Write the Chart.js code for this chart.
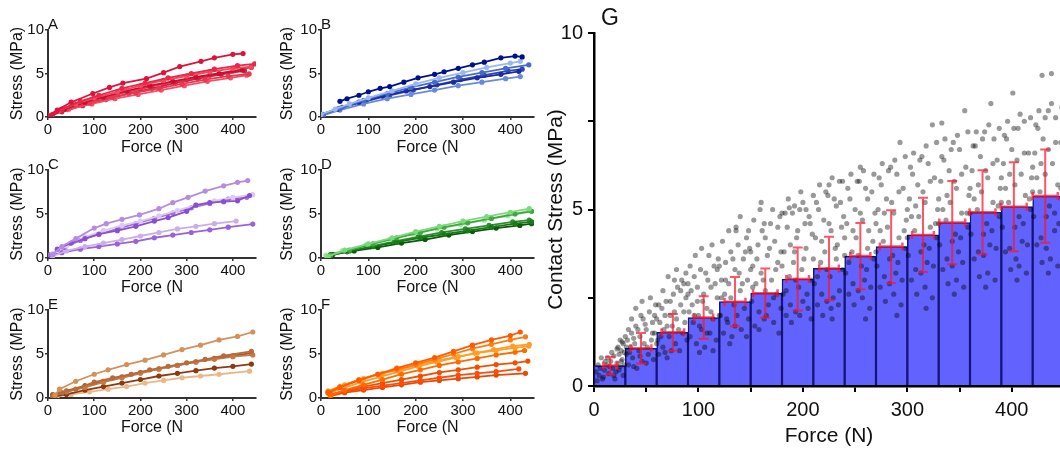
<!DOCTYPE html>
<html>
<head>
<meta charset="utf-8">
<script src="https://cdn.jsdelivr.net/npm/chart.js@4.4.1/dist/chart.umd.min.js"></script>
<style>
  body {
    margin: 0;
    width: 1060px;
    height: 451px;
    overflow: hidden;
    background: #fff;
    position: relative;
    font-family: "Liberation Sans", Arial, sans-serif;
  }
  canvas { position: absolute; }
  .tag { position: absolute; color: #111; font-size: 15px; line-height: 15px; }
  .tag-big { font-size: 23px; line-height: 23px; }
</style>
</head>
<body>
<canvas id="chartA" width="265" height="165" style="left:0;top:0"></canvas>
<canvas id="chartB" width="270" height="165" style="left:270px;top:0"></canvas>
<canvas id="chartC" width="265" height="165" style="left:0;top:140px"></canvas>
<canvas id="chartD" width="270" height="165" style="left:270px;top:140px"></canvas>
<canvas id="chartE" width="265" height="165" style="left:0;top:280px"></canvas>
<canvas id="chartF" width="270" height="165" style="left:270px;top:280px"></canvas>
<canvas id="chartG" width="530" height="451" style="left:540px;top:0"></canvas>

<div class="tag" style="left:48px;top:16px">A</div>
<div class="tag" style="left:321px;top:16px">B</div>
<div class="tag" style="left:48px;top:156px">C</div>
<div class="tag" style="left:321px;top:156px">D</div>
<div class="tag" style="left:48px;top:296px">E</div>
<div class="tag" style="left:321px;top:296px">F</div>
<div class="tag tag-big" style="left:601px;top:6px">G</div>

<script>
// ---------------- data: stress vs force per specimen, [force N, stress MPa] ----------------
const specimensA = [
  [[0,0.1],[20,0.8],[50,1.7],[97,2.7],[133,3.4],[162,3.9],[213,4.4],[250,5.1],[285,5.8],[331,6.4],[360,6.8],[400,7.2],[422,7.3]],
  [[0,0.1],[30,0.9],[70,1.8],[110,2.5],[160,3.3],[210,3.9],[260,4.5],[310,5.0],[360,5.5],[410,5.9],[447,6.1]],
  [[0,0.2],[25,0.8],[60,1.5],[100,2.2],[150,2.9],[200,3.6],[250,4.2],[300,4.7],[350,5.2],[400,5.6],[440,5.8]],
  [[5,0.1],[35,0.9],[80,1.7],[120,2.3],[170,3.0],[220,3.6],[270,4.1],[320,4.6],[370,5.0],[420,5.4]],
  [[0,0.1],[40,0.9],[90,1.6],[140,2.3],[190,2.8],[240,3.3],[290,3.8],[340,4.3],[390,4.7],[435,4.95]],
  [[5,0.2],[45,0.9],[95,1.5],[145,2.1],[195,2.6],[245,3.1],[295,3.6],[345,4.1],[395,4.5],[430,4.8]],
  [[0,0.1],[30,0.6],[75,1.3],[125,2.0],[175,2.7],[225,3.3],[275,3.9],[325,4.4],[375,4.9],[425,5.3]],
  [[10,0.3],[50,1.2],[100,1.9],[150,2.6],[200,3.2],[250,3.8],[300,4.3],[350,4.8],[400,5.3],[440,5.7]],
];
const specimensB = [
  [[40,1.8],[55,2.1],[80,2.5],[100,2.9],[125,3.3],[145,3.5],[175,4.0],[205,4.5],[240,4.9],[260,5.2],[290,5.6],[320,6.0],[345,6.3],[380,6.8],[410,7.0],[425,6.9]],
  [[0,0.3],[30,0.9],[60,1.5],[100,2.2],[150,3.0],[200,3.8],[250,4.5],[300,5.1],[350,5.7],[400,6.2],[421,6.4]],
  [[5,0.3],[40,1.0],[90,1.9],[140,2.7],[190,3.4],[240,4.0],[290,4.6],[340,5.1],[390,5.6],[439,6.0]],
  [[0,0.3],[35,0.9],[80,1.7],[130,2.4],[180,3.0],[230,3.5],[280,4.0],[330,4.5],[380,4.9],[418,5.25]],
  [[5,0.2],[40,0.8],[90,1.5],[140,2.1],[190,2.6],[240,3.1],[290,3.6],[340,4.0],[390,4.4],[421,4.65]],
  [[0,0.3],[45,1.1],[95,1.8],[145,2.5],[195,3.1],[245,3.7],[295,4.3],[345,4.8],[395,5.3],[425,5.5]],
];
const specimensC = [
  [[10,0.4],[30,1.3],[60,2.2],[100,3.4],[126,3.9],[160,4.4],[198,4.9],[240,5.6],[270,6.3],[303,6.9],[340,7.6],[380,8.2],[410,8.6],[432,8.8]],
  [[20,1.0],[50,1.7],[80,2.2],[110,2.7],[150,3.1],[190,3.6],[230,4.2],[260,4.6],[300,5.3],[320,6.0],[350,6.3],[380,6.4],[410,6.5],[436,7.1]],
  [[10,0.5],[40,1.4],[80,2.4],[120,3.1],[160,3.7],[200,4.2],[240,4.8],[280,5.4],[320,6.0],[360,6.5],[400,6.9],[443,7.2]],
  [[5,0.4],[35,1.2],[70,2.0],[110,2.7],[150,3.3],[190,3.9],[230,4.5],[270,5.1],[310,5.7],[350,6.2],[390,6.7],[430,6.9]],
  [[10,0.2],[40,0.8],[80,1.3],[120,1.7],[160,2.1],[200,2.5],[240,2.9],[280,3.3],[320,3.6],[360,3.9],[407,4.2]],
  [[5,0.3],[30,0.6],[70,1.0],[110,1.3],[150,1.6],[190,1.9],[230,2.3],[270,2.6],[310,2.9],[350,3.2],[390,3.5],[443,3.85]],
];
const specimensD = [
  [[15,0.2],[50,0.9],[100,1.6],[150,2.3],[200,3.0],[250,3.6],[300,4.2],[350,4.7],[400,5.2],[440,5.6]],
  [[20,0.3],[60,0.9],[110,1.6],[160,2.3],[210,2.9],[260,3.5],[310,4.0],[360,4.5],[410,5.0],[445,5.3]],
  [[20,0.4],[60,0.8],[110,1.3],[160,1.8],[210,2.3],[260,2.7],[310,3.1],[360,3.5],[410,3.9],[445,4.1]],
  [[25,0.4],[70,0.8],[120,1.2],[170,1.7],[220,2.1],[270,2.6],[320,3.0],[370,3.4],[420,3.7],[445,3.9]],
  [[10,0.3],[45,0.8],[95,1.5],[145,2.1],[195,2.7],[245,3.3],[295,3.8],[345,4.3],[395,4.8],[440,5.4]],
  [[20,0.3],[55,0.7],[105,1.3],[155,1.9],[205,2.4],[255,2.9],[305,3.3],[355,3.7],[405,4.1],[440,4.3]],
];
const specimensE = [
  [[15,0.3],[25,1.0],[60,1.9],[100,2.7],[130,3.2],[170,3.8],[210,4.3],[250,4.9],[290,5.5],[330,6.0],[370,6.6],[410,7.0],[443,7.5]],
  [[10,0.2],[30,0.6],[60,1.0],[100,1.8],[140,2.3],[180,2.7],[220,3.2],[260,3.6],[300,4.0],[340,4.4],[380,4.8],[440,5.3]],
  [[15,0.3],[40,0.7],[80,1.2],[120,1.8],[160,2.3],[200,2.8],[240,3.3],[280,3.7],[320,4.1],[360,4.4],[400,4.7],[443,4.9]],
  [[15,0.2],[40,0.4],[80,0.9],[120,1.3],[160,1.7],[200,2.1],[240,2.5],[280,2.8],[320,3.1],[360,3.4],[400,3.6],[440,3.85]],
  [[20,0.2],[50,0.4],[90,0.7],[130,1.0],[170,1.3],[210,1.7],[250,2.0],[290,2.3],[330,2.5],[370,2.7],[436,3.05]],
  [[10,0.4],[40,0.8],[80,1.4],[120,1.9],[160,2.4],[200,2.9],[240,3.3],[280,3.7],[320,4.1],[360,4.5],[400,4.8],[440,5.1]],
];
const specimensF = [
  [[15,0.6],[40,1.2],[80,2.0],[120,2.7],[160,3.4],[200,4.0],[240,4.6],[280,5.3],[320,6.0],[360,6.6],[400,7.1],[421,7.5]],
  [[15,0.7],[40,1.3],[80,2.1],[120,2.7],[160,3.2],[200,3.8],[240,4.4],[280,5.0],[320,5.6],[360,6.1],[400,6.6],[432,6.95]],
  [[15,0.8],[50,1.5],[90,2.2],[130,2.8],[170,3.3],[210,3.8],[250,4.3],[290,4.7],[330,5.1],[370,5.4],[410,5.7],[439,5.9]],
  [[20,0.3],[50,0.9],[90,1.5],[130,2.1],[170,2.7],[210,3.2],[250,3.7],[290,4.1],[330,4.5],[370,4.9],[410,5.2],[430,5.4]],
  [[20,0.4],[50,0.8],[90,1.3],[130,1.7],[170,2.1],[210,2.5],[250,2.9],[290,3.2],[330,3.5],[370,3.8],[410,4.0],[437,4.2]],
  [[20,0.3],[50,0.7],[90,1.1],[130,1.4],[170,1.7],[210,2.0],[250,2.3],[290,2.6],[330,2.8],[370,3.0],[418,3.3]],
  [[20,0.2],[50,0.6],[90,0.9],[130,1.2],[170,1.5],[210,1.8],[250,2.0],[290,2.2],[330,2.4],[370,2.6],[432,2.8]],
  [[15,0.5],[45,1.1],[85,1.8],[125,2.4],[165,3.0],[205,3.6],[245,4.1],[285,4.6],[325,5.1],[365,5.5],[405,5.9],[440,6.1]],
];

// panel G: binned means (30 N bins) and spread
const binForce = [15, 45, 75, 105, 135, 165, 195, 225, 255, 285, 315, 345, 375, 405, 435];
const binStressMean = [0.58, 1.07, 1.52, 1.94, 2.39, 2.63, 3.03, 3.33, 3.68, 3.95, 4.28, 4.63, 4.92, 5.08, 5.38];
const binStressSD = [0.25, 0.43, 0.52, 0.6, 0.7, 0.7, 0.89, 0.9, 0.94, 1.03, 1.05, 1.18, 1.19, 1.26, 1.32];
const binForceMean = [15.5, 45, 75.5, 105, 135, 164, 195, 225, 255, 284.5, 315, 343, 372, 402, 432];
const binForceSD = [6.7, 9.9, 10.8, 9.1, 10, 11.7, 10.8, 9.4, 9.6, 10.8, 10.4, 12.4, 12.4, 12.3, 12];

// panel G: all contact measurements [force N, stress MPa]
const contactPoints = [
  [3,0.15],[5,0.3],[8,0.2],[10,0.45],[12,0.6],[14,0.35],[16,0.7],[18,0.5],[19,0.85],[21,0.4],[22,0.65],[24,0.9],[25,0.55],[26,1.0],[27,0.75],[28,0.3],[29,0.95],[13,0.8],[20,0.2],[23,1.1],
  [2,0.4],[4,0.6],[6,0.5],[7,0.8],[9,0.25],[11,0.7],[15,0.55],[17,0.95],[19,0.3],[22,1.05],[24,0.45],[26,0.7],[28,1.2],[29,0.6],[27,1.25],[25,1.3],
  [31,0.9],[32,1.3],[33,0.6],[35,1.1],[36,1.5],[37,0.8],[39,1.2],[40,1.7],[41,0.5],[43,1.0],[44,1.4],[46,0.7],[47,1.9],[48,1.2],[50,1.6],[52,0.9],[53,2.1],[55,1.3],[56,1.8],[57,0.75],[58,1.5],[59,2.3],[45,2.0],
  [30,1.4],[31,1.1],[33,1.6],[34,0.95],[36,1.9],[38,1.35],[40,2.2],[42,1.6],[44,0.85],[46,2.4],[49,1.75],[51,1.1],[54,2.5],[56,1.5],[58,2.0],[60,1.2],[38,0.55],[50,0.65],
  [61,1.3],[62,0.9],[63,1.8],[65,2.2],[66,1.1],[67,1.6],[69,2.4],[70,0.8],[72,1.4],[73,2.0],[75,1.7],[76,2.6],[78,1.2],[79,1.9],[80,2.8],[82,1.0],[83,2.3],[85,1.5],[86,2.9],[87,1.8],[88,2.5],[89,1.3],[77,3.0],
  [60,1.9],[62,2.3],[64,1.4],[66,2.7],[68,2.0],[70,1.7],[71,3.1],[73,2.4],[74,1.0],[77,2.1],[79,3.3],[81,1.6],[83,2.7],[84,3.0],[86,2.1],[88,3.2],[90,2.6],[68,0.95],
  [91,2.1],[92,1.4],[93,2.7],[95,1.8],[96,3.1],[98,1.2],[99,2.4],[100,2.0],[102,3.3],[103,1.6],[105,2.6],[106,1.1],[108,2.2],[109,3.0],[111,1.5],[112,2.8],[114,1.9],[115,3.4],[117,1.3],[118,2.5],[119,3.6],[101,0.95],
  [90,2.9],[92,3.4],[94,2.3],[96,2.0],[97,3.7],[99,2.8],[101,1.7],[103,3.9],[104,2.4],[107,3.2],[108,1.5],[110,3.7],[112,2.1],[113,4.0],[116,2.9],[118,3.3],[120,2.0],[114,1.0],
  [121,2.0],[122,3.0],[124,1.5],[125,2.6],[126,3.5],[128,1.8],[129,2.9],[131,3.8],[132,1.4],[134,2.3],[135,3.3],[137,2.0],[138,4.0],[140,2.7],[141,1.6],[143,3.6],[144,2.2],[146,4.2],[147,3.0],[148,1.9],[149,3.9],[136,4.4],
  [120,3.4],[122,2.5],[123,4.1],[126,3.0],[127,1.9],[129,4.4],[131,2.5],[133,3.6],[135,1.7],[136,4.5],[139,3.2],[140,4.8],[142,2.9],[145,3.8],[146,1.4],[148,4.4],[150,3.3],[130,1.2],
  [151,2.4],[152,3.4],[154,1.7],[155,2.9],[157,4.0],[158,2.1],[160,3.2],[161,4.4],[163,1.9],[164,2.7],[166,3.7],[167,2.3],[169,4.6],[170,3.0],[172,1.8],[173,4.1],[175,2.6],[176,3.5],[178,4.8],[179,2.2],[163,4.6],
  [150,3.8],[152,2.8],[153,4.7],[156,3.6],[158,1.6],[159,5.0],[162,3.0],[164,4.2],[165,2.0],[168,3.9],[171,5.0],[172,2.5],[174,3.3],[176,4.5],[177,1.5],[179,3.8],[180,4.9],[160,5.2],
  [181,2.6],[182,3.8],[184,2.0],[185,4.5],[187,3.1],[188,2.3],[190,4.9],[191,3.5],[193,2.1],[194,4.2],[196,2.8],[197,5.0],[199,3.3],[200,2.4],[202,4.6],[203,3.9],[205,2.2],[206,4.8],[208,3.0],[209,4.3],[187,5.05],[200,5.2],
  [180,3.4],[183,4.9],[184,2.7],[186,5.3],[188,4.0],[189,1.8],[192,5.1],[193,3.0],[195,4.4],[197,2.0],[198,5.5],[201,3.6],[203,5.0],[204,2.6],[207,4.6],[208,1.9],[210,5.4],[192,3.8],
  [211,2.9],[212,4.2],[214,2.3],[215,5.0],[217,3.5],[218,2.6],[220,4.7],[221,3.8],[223,2.4],[224,5.4],[226,3.1],[227,4.4],[229,2.5],[230,5.3],[232,3.6],[233,4.0],[235,2.7],[236,5.2],[238,3.3],[239,4.8],[225,5.7],[235,5.8],
  [210,3.6],[213,5.2],[214,3.1],[216,5.7],[218,4.1],[219,2.0],[222,5.5],[223,3.3],[225,4.6],[227,2.2],[228,5.9],[231,3.9],[232,5.1],[234,2.3],[237,4.5],[238,5.8],[240,3.7],[228,1.9],
  [241,3.2],[242,4.6],[244,2.6],[245,5.3],[247,3.8],[248,2.9],[250,5.0],[251,4.2],[253,2.7],[254,5.8],[256,3.4],[257,4.7],[259,3.0],[260,5.6],[262,3.9],[263,4.4],[265,2.8],[266,5.5],[268,3.6],[269,4.9],[255,6.2],
  [240,4.2],[243,5.6],[244,3.5],[246,6.0],[248,4.4],[249,2.3],[252,5.8],[253,3.7],[255,4.9],[257,2.5],[258,6.1],[261,3.3],[262,5.3],[264,2.2],[267,4.1],[268,6.0],[270,4.6],[260,1.9],
  [271,3.4],[272,5.0],[274,2.8],[275,5.7],[277,4.1],[278,3.1],[280,5.3],[281,4.5],[283,2.9],[284,6.2],[286,3.7],[287,4.9],[289,3.2],[290,6.0],[292,4.2],[293,6.9],[295,3.0],[296,5.6],[298,3.9],[299,4.7],
  [270,3.8],[273,5.9],[274,4.4],[276,6.3],[278,4.9],[279,2.4],[282,6.1],[283,3.6],[285,5.2],[287,2.6],[288,6.4],[291,3.5],[292,5.5],[294,2.3],[297,4.4],[298,6.5],[300,5.0],[290,2.0],
  [301,3.7],[302,5.3],[304,3.0],[305,6.0],[307,4.4],[308,3.3],[310,5.7],[311,4.8],[313,3.2],[314,6.5],[316,4.0],[317,5.2],[319,3.5],[320,6.3],[322,4.5],[324,7.4],[325,3.4],[326,5.9],[328,4.2],[329,5.0],
  [300,4.2],[303,6.2],[304,4.8],[306,6.6],[308,5.1],[309,2.6],[312,6.4],[313,3.8],[315,5.5],[317,2.8],[318,6.8],[321,3.9],[322,5.8],[324,2.5],[327,4.6],[328,6.9],[330,5.3],[318,2.2],
  [331,4.0],[332,5.8],[333,7.45],[334,3.3],[335,6.4],[337,4.7],[338,3.6],[340,6.1],[341,5.2],[343,3.4],[344,6.9],[346,4.3],[347,5.6],[349,3.8],[350,6.7],[352,4.9],[353,3.5],[355,7.8],[356,6.2],[358,4.5],[359,5.4],
  [330,4.6],[333,6.5],[334,5.0],[336,7.0],[338,5.4],[339,2.9],[342,6.7],[343,4.1],[345,5.8],[347,3.0],[348,7.1],[351,4.2],[352,6.0],[354,2.8],[357,4.9],[358,7.2],[360,5.6],[345,2.6],
  [361,4.3],[362,6.1],[364,3.6],[365,6.8],[367,5.0],[368,3.8],[370,6.5],[371,5.5],[373,3.7],[374,7.2],[376,4.6],[377,5.9],[379,4.0],[380,8.0],[382,5.2],[383,7.0],[385,3.9],[386,6.4],[388,4.8],[389,5.6],
  [360,4.9],[363,6.8],[364,5.3],[366,7.2],[368,5.7],[369,3.1],[372,7.0],[373,4.3],[375,6.1],[377,3.2],[378,7.4],[381,4.4],[382,6.3],[384,3.0],[387,5.1],[388,7.3],[390,5.9],[375,2.8],
  [391,4.5],[392,6.3],[394,3.8],[395,7.0],[397,5.2],[398,3.9],[400,6.7],[401,8.3],[403,5.7],[404,3.6],[406,7.3],[407,4.8],[409,6.0],[410,4.1],[412,7.5],[413,5.4],[415,4.0],[416,6.6],[418,5.0],[419,5.9],
  [390,5.2],[393,7.1],[394,5.6],[396,7.5],[398,6.0],[399,3.3],[402,7.3],[403,4.5],[405,6.4],[407,3.4],[408,7.7],[411,4.6],[412,6.6],[414,3.2],[417,5.3],[418,7.6],[420,6.2],[405,3.0],
  [421,4.8],[422,6.6],[424,4.0],[425,7.3],[427,5.5],[428,4.2],[429,8.8],[430,7.0],[432,6.0],[433,3.9],[435,7.8],[436,5.1],[438,8.85],[439,6.3],[441,4.4],[442,7.6],[444,5.7],[445,4.6],[447,6.9],[448,5.3],
  [420,5.5],[423,7.4],[424,5.9],[426,7.8],[428,6.3],[429,3.5],[432,7.6],[433,4.8],[435,6.7],[437,3.6],[438,8.0],[441,4.9],[442,6.9],[444,3.4],[447,5.6],[448,7.9],[450,6.5],[435,3.2],
];

// ---------------- styles ----------------
const coloursA = ["#dc143c", "#e8274b", "#f04a5f", "#c8102e", "#e63950", "#f0506a", "#d41f45", "#ea3a55"];
const coloursB = ["#00108a", "#9ab8ec", "#4a68c8", "#1a2aa0", "#6a8ad8", "#3048b0"];
const coloursC = ["#b58ce0", "#8a4fd0", "#ddc8f2", "#a070d8", "#c9aee9", "#9a62d6"];
const coloursD = ["#7dd87d", "#3daa3d", "#1a7a1a", "#0a5a0a", "#9ae89a", "#2a8f2a"];
const coloursE = ["#d4905a", "#b86a3a", "#c47a45", "#8c3a12", "#e8b888", "#a55a2a"];
const coloursF = ["#ff5a00", "#ff7a10", "#ffa020", "#ff6a00", "#f05000", "#ff4a10", "#e84a00", "#ff9a30"];

Chart.defaults.font.family = '"Liberation Sans", Arial, sans-serif';
Chart.defaults.color = "#111";
Chart.defaults.animation = false;
Chart.defaults.plugins.legend.display = false;
Chart.defaults.plugins.tooltip.enabled = false;

// one small panel: box gives where the axes sit on the page
function smallPanel(id, specimens, colours, box) {
  const canvas = document.getElementById(id);
  const canvasLeft = parseFloat(canvas.style.left);
  const canvasTop = parseFloat(canvas.style.top);
  const yWidth = box.x0 - canvasLeft;
  const xHeight = canvas.height - (box.y0 - canvasTop);

  new Chart(canvas, {
    type: "scatter",
    data: {
      datasets: specimens.map((line, i) => ({
        data: line.map((p) => ({ x: p[0], y: p[1] })),
        showLine: true,
        borderColor: colours[i % colours.length],
        backgroundColor: colours[i % colours.length],
        borderWidth: 1.8,
        pointRadius: 2.6,
        pointBorderWidth: 0,
      })),
    },
    options: {
      responsive: false,
      devicePixelRatio: 1,
      layout: {
        padding: { top: box.y10 - canvasTop, right: canvas.width - (box.xEnd - canvasLeft), bottom: 0, left: 0 },
      },
      scales: {
        x: {
          type: "linear",
          min: 0,
          max: 450,
          afterFit: (scale) => { scale.height = xHeight; },
          ticks: { stepSize: 100, includeBounds: false, padding: 1, font: { size: 15 } },
          grid: { drawOnChartArea: false, tickLength: 3, color: "#333", lineWidth: 1.5 },
          border: { color: "#333", width: 2 },
          title: { display: true, text: "Force (N", font: { size: 16 }, padding: { top: 0, bottom: 8 } },
        },
        y: {
          min: 0,
          max: 10,
          afterFit: (scale) => { scale.width = yWidth; },
          ticks: { stepSize: 5, padding: 1, font: { size: 15 } },
          grid: { drawOnChartArea: false, tickLength: 3, color: "#333", lineWidth: 1.5 },
          border: { color: "#333", width: 2 },
          title: { display: true, text: "Stress (MPa)", font: { size: 16 }, padding: { top: 8.4, bottom: 0 } },
        },
      },
    },
  });
}

smallPanel("chartA", specimensA, coloursA, { x0: 48, xEnd: 256, y10: 30, y0: 117 });
smallPanel("chartB", specimensB, coloursB, { x0: 321, xEnd: 534, y10: 30, y0: 117 });
smallPanel("chartC", specimensC, coloursC, { x0: 48, xEnd: 256, y10: 170, y0: 258 });
smallPanel("chartD", specimensD, coloursD, { x0: 321, xEnd: 534, y10: 170, y0: 258 });
smallPanel("chartE", specimensE, coloursE, { x0: 48, xEnd: 256, y10: 310, y0: 398 });
smallPanel("chartF", specimensF, coloursF, { x0: 321, xEnd: 534, y10: 310, y0: 398 });

// error bars for panel G, drawn on top of everything
const errorBars = {
  id: "errorBars",
  afterDatasetsDraw(chart) {
    const { ctx } = chart;
    const x = chart.scales.x;
    const y = chart.scales.y;
    ctx.save();
    ctx.strokeStyle = "rgba(255, 20, 40, 0.72)";
    binForceMean.forEach((f, i) => {
      const cx = x.getPixelForValue(f);
      const cy = y.getPixelForValue(binStressMean[i]);
      const top = y.getPixelForValue(binStressMean[i] + binStressSD[i]);
      const bottom = y.getPixelForValue(binStressMean[i] - binStressSD[i]);
      const left = x.getPixelForValue(f - binForceSD[i]);
      const right = x.getPixelForValue(f + binForceSD[i]);
      ctx.lineWidth = 2;
      ctx.beginPath();
      ctx.moveTo(cx, top); ctx.lineTo(cx, bottom);
      ctx.moveTo(cx - 5, top); ctx.lineTo(cx + 5, top);
      ctx.moveTo(cx - 5, bottom); ctx.lineTo(cx + 5, bottom);
      ctx.stroke();
      ctx.lineWidth = 2.5;
      ctx.beginPath();
      ctx.moveTo(left, cy); ctx.lineTo(right, cy);
      ctx.moveTo(left, cy - 4); ctx.lineTo(left, cy + 4);
      ctx.moveTo(right, cy - 4); ctx.lineTo(right, cy + 4);
      ctx.stroke();
    });
    ctx.restore();
  },
};

new Chart(document.getElementById("chartG"), {
  type: "scatter",
  data: {
    datasets: [
      {
        type: "bar",
        data: binForce.map((f, i) => ({ x: f, y: binStressMean[i] })),
        backgroundColor: "#6262ff",
        borderColor: "#14147a",
        borderWidth: 1.5,
        barPercentage: 1,
        categoryPercentage: 1,
        order: 2,
      },
      {
        data: contactPoints.map((p) => ({ x: p[0], y: p[1] })),
        backgroundColor: "rgba(0, 0, 0, 0.4)",
        pointRadius: 2.6,
        pointBorderWidth: 0,
        order: 1,
      },
    ],
  },
  options: {
    responsive: false,
    devicePixelRatio: 1,
    layout: { padding: { top: 33, right: 6, bottom: 0, left: 0 } },
    scales: {
      x: {
        type: "linear",
        min: 0,
        max: 450,
        offset: false,
        afterFit: (scale) => { scale.height = 65; },
        ticks: {
          stepSize: 50,
          padding: 6,
          font: { size: 20 },
          callback: (v) => (v % 100 === 0 ? v : ""),
        },
        grid: { drawOnChartArea: false, offset: false, tickLength: 6, color: "#000", lineWidth: 2 },
        border: { color: "#000", width: 2.5 },
        title: { display: true, text: "Force (N)", font: { size: 21 }, padding: { top: 0, bottom: 2 } },
      },
      y: {
        min: 0,
        max: 10,
        afterFit: (scale) => { scale.width = 54; },
        ticks: {
          stepSize: 2.5,
          padding: 5,
          font: { size: 20 },
          callback: (v) => (v % 5 === 0 ? v : ""),
        },
        grid: { drawOnChartArea: false, tickLength: 6, color: "#000", lineWidth: 2 },
        border: { color: "#000", width: 2.5 },
        title: { display: true, text: "Contact Stress (MPa)", font: { size: 21 }, padding: { top: 4, bottom: 0 } },
      },
    },
  },
  plugins: [errorBars],
});
</script>
</body>
</html>
